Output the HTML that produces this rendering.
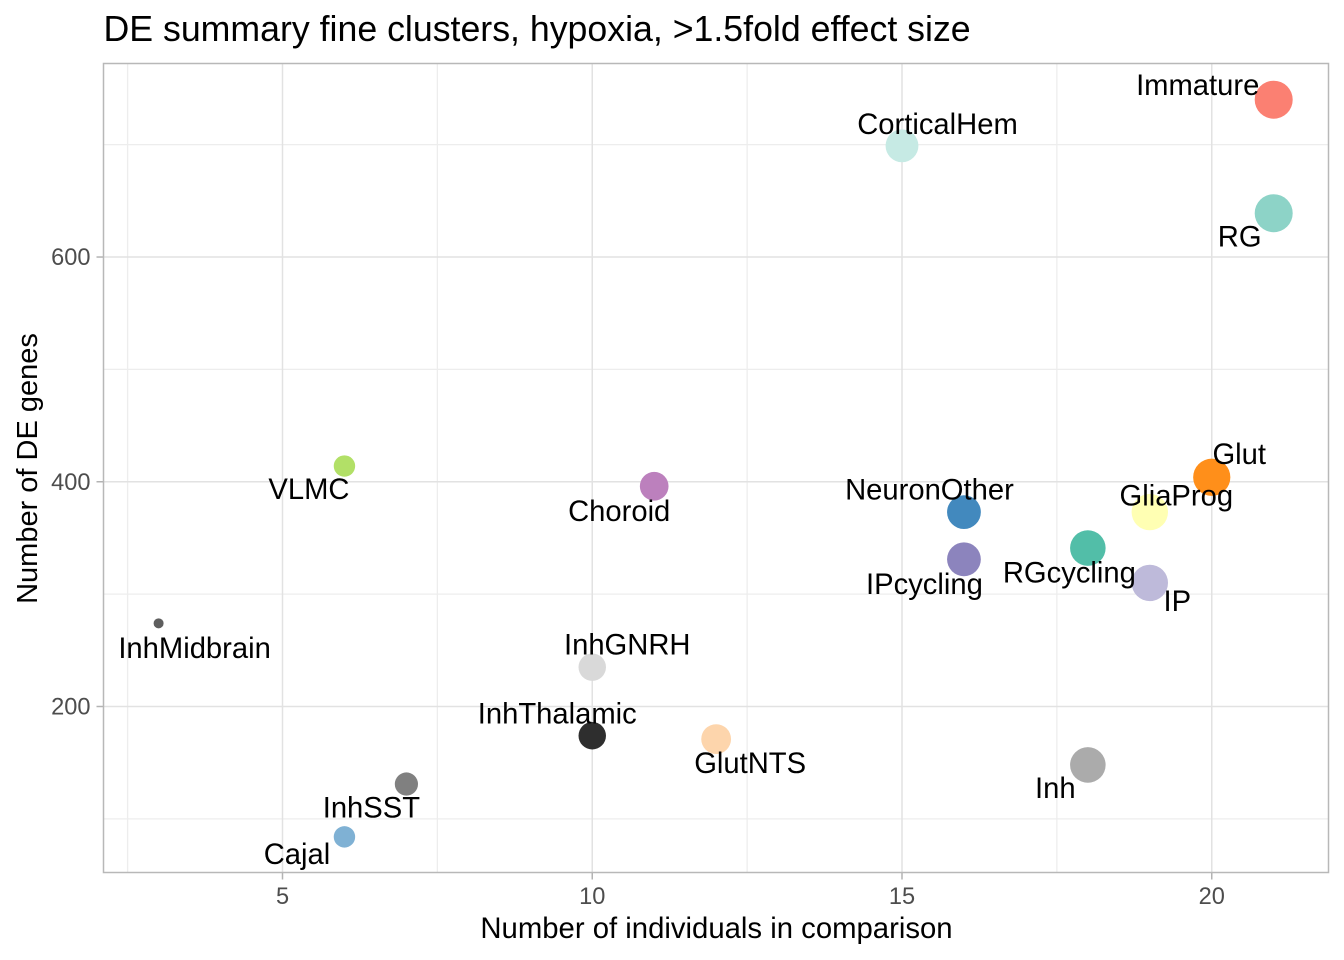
<!DOCTYPE html>
<html>
<head>
<meta charset="utf-8">
<title>DE summary fine clusters</title>
<style>
html,body{margin:0;padding:0;background:#fff;}
svg{display:block;font-family:"Liberation Sans",sans-serif;}
</style>
</head>
<body>
<svg id="chart" width="1344" height="960" viewBox="0 0 1344 960" xmlns="http://www.w3.org/2000/svg">
<rect x="0" y="0" width="1344" height="960" fill="#fff"/>
<text x="103.5" y="41" font-size="35.7" fill="#000">DE summary fine clusters, hypoxia, &gt;1.5fold effect size</text>
<text x="716.5" y="938" font-size="29.3" text-anchor="middle" fill="#000">Number of individuals in comparison</text>
<text transform="translate(37,468.5) rotate(-90)" font-size="29" text-anchor="middle" fill="#000">Number of DE genes</text>
<g id="grid"></g>
<g id="ticks"></g>
<g id="points"></g>
<g id="labels"></g>
<rect x="103.5" y="63.5" width="1225" height="809" fill="none" stroke="#b8b8b8" stroke-width="1.5"/>
</svg>
<script>
const clusters = ["Immature","RG","CorticalHem","Glut","GliaProg","NeuronOther","IPcycling","RGcycling","IP","Choroid","VLMC","InhMidbrain","InhGNRH","InhThalamic","GlutNTS","Inh","InhSST","Cajal"];
const individuals = [21,21,15,20,19,16,16,18,19,11,6,3,10,10,12,18,7,6];
const deGenes = [740,639,699,404,373,373,331,341,310,396,414,274,235,174,171,148,131,84];
const clusterColors = ["#FB8072","#8DD3C7","#C6EAE4","#FF8F1A","#FFFFB3","#4289BE","#8C84BD","#52BEA8","#BEBADA","#BC80BD","#B2E067","#5E5E5E","#D9D9D9","#2E2E2E","#FDD5AC","#ABABAB","#808080","#7FB1D4"];
const xMajorTicks = [5,10,15,20];
const xMinorTicks = [2.5,7.5,12.5,17.5];
const yMajorTicks = [200,400,600];
const yMinorTicks = [100,300,500,700];

const labelNudge = {
  Immature:[-76,-4.5], RG:[-34,33.5], CorticalHem:[35.5,-12], Glut:[27.5,-13.5], GliaProg:[26.5,-6.5],
  NeuronOther:[-34.5,-12.5], IPcycling:[-39.5,34.5], RGcycling:[-18.5,34.5], IP:[27.5,28], Choroid:[-35,34.5],
  VLMC:[-35.5,33], InhMidbrain:[36,34.5], InhGNRH:[35,-12.5], InhThalamic:[-35,-12], GlutNTS:[34,34],
  Inh:[-32.5,33], InhSST:[-35,33.5], Cajal:[-47.5,27]
};

const NS = "http://www.w3.org/2000/svg";
const L = 103.5, R = 1328.5, T = 63.5, B = 872.5;
function xScale(v){ return 282.5 + (v - 5) * 61.95; }
function yScale(v){ return 706.5 - (v - 200) * 1.1237; }
function rScale(n){ return 5 + 14 * Math.sqrt((n - 3) / 18); }

function make(tag, attrs, parent){
  const el = document.createElementNS(NS, tag);
  for (const k in attrs) el.setAttribute(k, attrs[k]);
  parent.appendChild(el);
  return el;
}
const grid = document.getElementById('grid');
const ticks = document.getElementById('ticks');
const pointsG = document.getElementById('points');
const labelsG = document.getElementById('labels');

xMinorTicks.forEach(function(v){
  const el = make('line',{x1:xScale(v),x2:xScale(v),y1:T,y2:B,stroke:'#ededed','stroke-width':1.3},grid);
  
  
});
yMinorTicks.forEach(function(v){
  const el = make('line',{x1:L,x2:R,y1:yScale(v),y2:yScale(v),stroke:'#ededed','stroke-width':1.3},grid);
  
  
});
xMajorTicks.forEach(function(v){
  const g = make('line',{x1:xScale(v),x2:xScale(v),y1:T,y2:B,stroke:'#e2e2e2','stroke-width':1.5},grid);
  
  
  const t = make('line',{x1:xScale(v),x2:xScale(v),y1:B,y2:B+7,stroke:'#b3b3b3','stroke-width':1.5},ticks);
  
  
  const s = make('text',{x:xScale(v),y:904,'font-size':23.6,'text-anchor':'middle',fill:'#4d4d4d'},ticks);
  
  
  s.textContent = v;
});
yMajorTicks.forEach(function(v){
  const g = make('line',{x1:L,x2:R,y1:yScale(v),y2:yScale(v),stroke:'#e2e2e2','stroke-width':1.5},grid);
  
  
  const t = make('line',{x1:L-7,x2:L,y1:yScale(v),y2:yScale(v),stroke:'#b3b3b3','stroke-width':1.5},ticks);
  
  
  const s = make('text',{x:L-13,y:yScale(v)+8.2,'font-size':23.6,'text-anchor':'end',fill:'#4d4d4d'},ticks);
  
  
  s.textContent = v;
});

clusters.forEach(function(name,i){
  const cx = xScale(individuals[i]), cy = yScale(deGenes[i]);
  const c = make('circle',{cx:cx,cy:cy,r:rScale(individuals[i]),fill:clusterColors[i]},pointsG);
  
  
});
clusters.forEach(function(name,i){
  const cx = xScale(individuals[i]), cy = yScale(deGenes[i]);
  const n = labelNudge[name];
  const t = make('text',{x:cx+n[0],y:cy+n[1],'font-size':29.2,'text-anchor':'middle',fill:'#000'},labelsG);
  
  
  t.textContent = name;
});
</script>
</body>
</html>
